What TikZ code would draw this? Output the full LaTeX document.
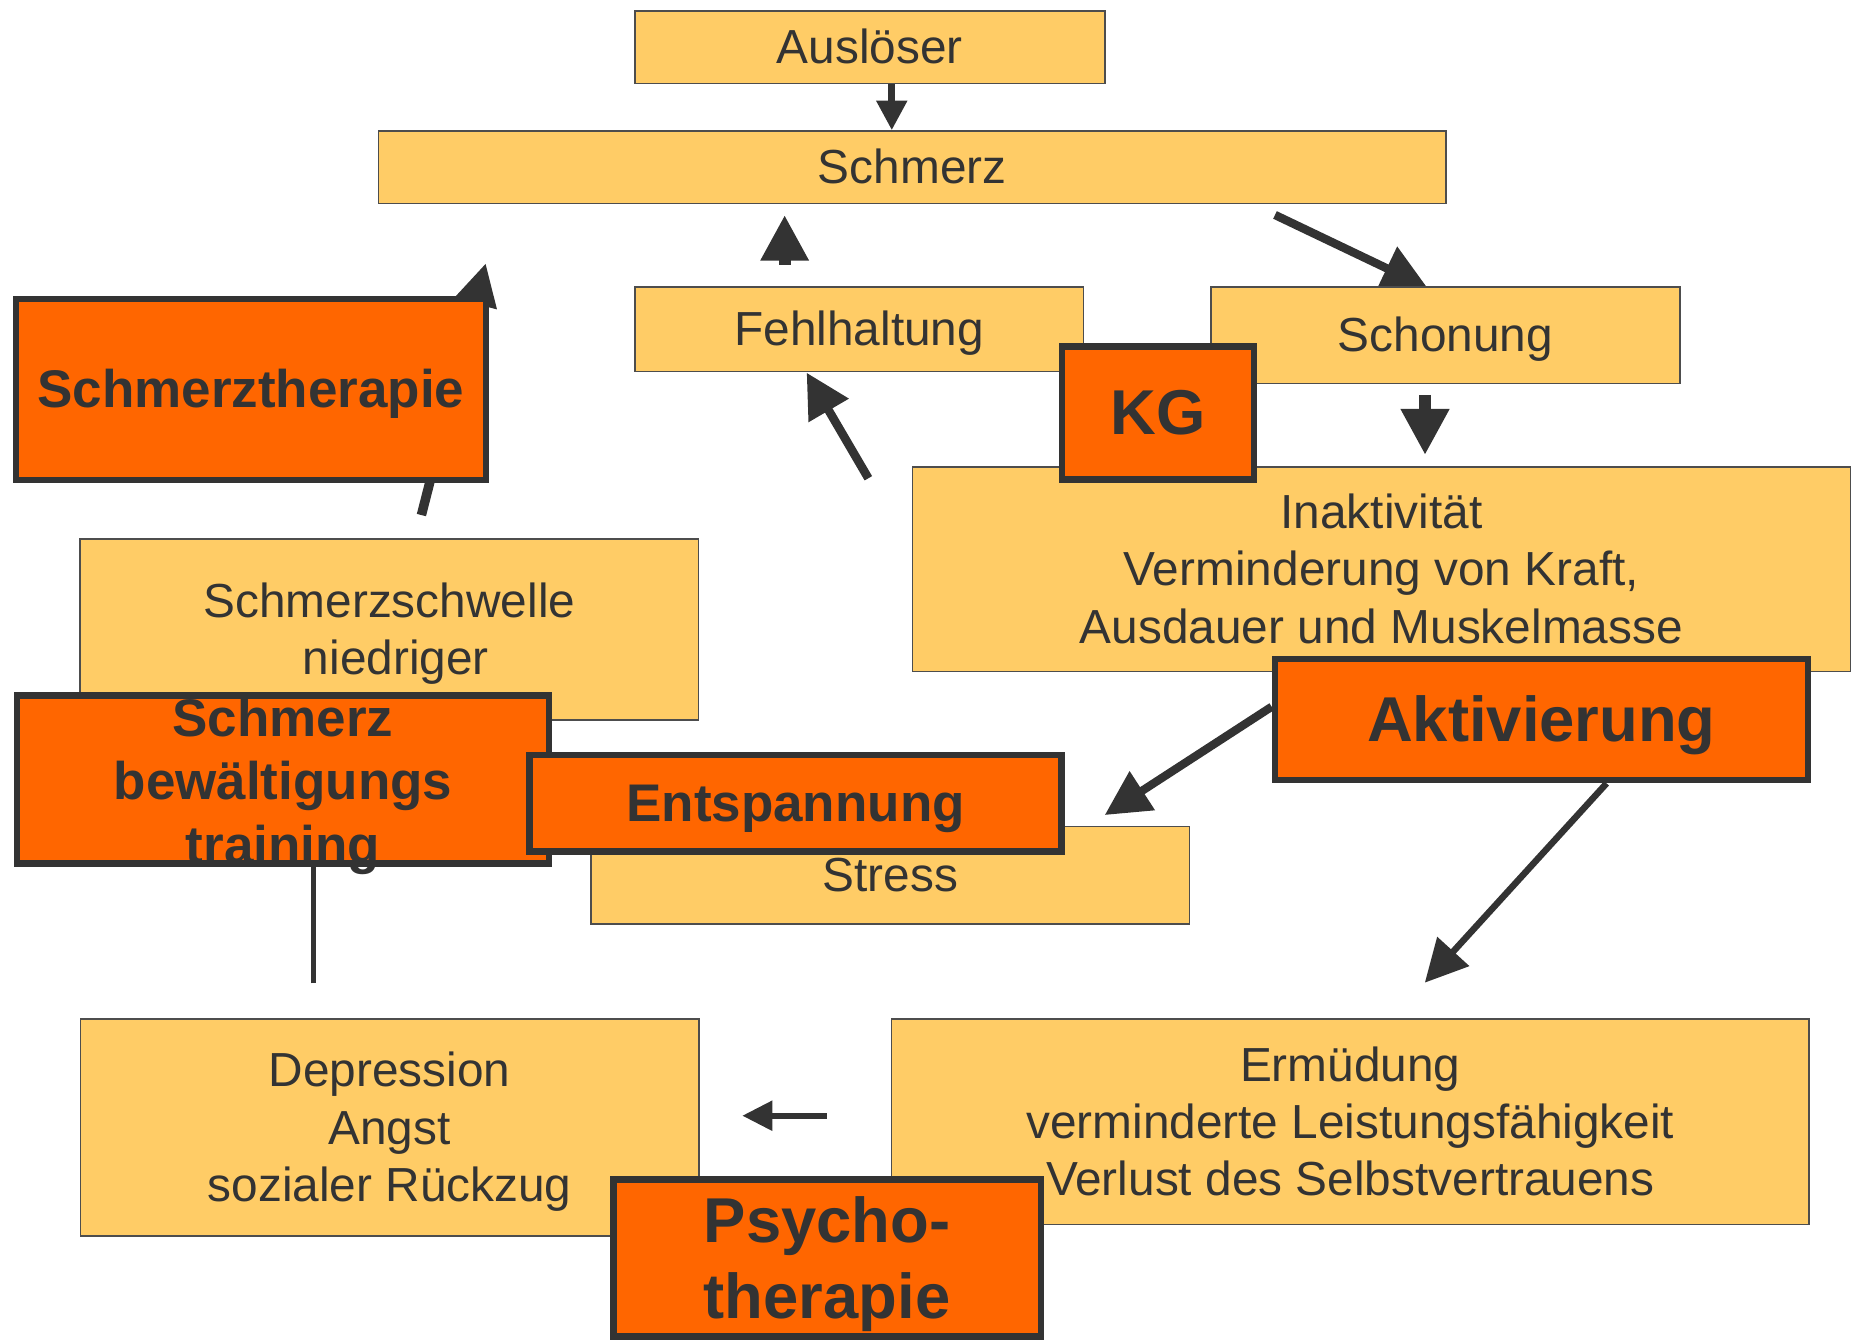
\documentclass[tikz,border=0pt]{standalone}
\usepackage{fontspec}
\setmainfont{Liberation Sans}
\usepackage{tikz}
\definecolor{boxfill}{RGB}{255,204,102}
\definecolor{therapyfill}{RGB}{255,102,0}
\definecolor{darkgrey}{RGB}{51,51,51}
\definecolor{boxline}{RGB}{77,77,77}
\usetikzlibrary{arrows.meta}
\usetikzlibrary{calc}
\pgfdeclarelayer{edgelayer}
\pgfdeclarelayer{nodelayer}
\pgfdeclarelayer{therapylayer}
\pgfsetlayers{edgelayer,nodelayer,therapylayer,main}
\newcommand{\boxfont}{\fontsize{11.5}{13.8}\selectfont}
\newcommand{\therapyfont}{\bfseries\fontsize{12.75}{15.3}\selectfont}
\newcommand{\bigtherapyfont}{\bfseries\fontsize{15.25}{18.3}\selectfont}
% line struts, so that every text sits like in the slide
\newcommand{\topstrut}{\rule{0pt}{0.905em}}
\newcommand{\botstrut}{\rule[-0.212em]{0pt}{0.212em}}
\tikzstyle{struts}=[execute at begin node=\topstrut,execute at end node=\botstrut]
\tikzstyle{box}=[rectangle,fill=boxfill,draw=boxline,line width=0.4pt,text=darkgrey,font=\boxfont,align=center,inner sep=0pt,struts]
\tikzstyle{therapy}=[rectangle,fill=therapyfill,draw=darkgrey,line width=0.055cm,text=darkgrey,font=\therapyfont,align=center,inner sep=0pt,struts]
\tikzstyle{bigtherapy}=[therapy,font=\bigtherapyfont]
\tikzstyle{therapytext}=[text=darkgrey,font=\therapyfont,align=center,inner sep=0pt,struts]
\tikzstyle{arrow}=[draw=darkgrey,line cap=butt]

\begin{document}
\begin{tikzpicture}
        \useasboundingbox (0, 0) rectangle (15.68, -11.35);

        \begin{pgfonlayer}{nodelayer}
            \node [style = box, minimum width=3.974cm, minimum height=0.615cm] (ausl) at (7.357, -0.398) {Auslöser};
            \node [style = box, minimum width=9.029cm, minimum height=0.612cm] (schm) at (7.715, -1.414) {Schmerz};
            \node [style = box, minimum width=3.795cm, minimum height=0.718cm] (fehl) at (7.267, -2.784) {Fehlhaltung};
            \node [style = box, minimum width=3.970cm, minimum height=0.817cm] (scho) at (12.225, -2.834) {Schonung};
            \node [style = box, minimum width=7.934cm, minimum height=1.733cm] (inak) at (11.683, -4.814) {\topstrut Inaktivität\\Verminderung von Kraft,\\Ausdauer und Muskelmasse};
            \node [style = box, minimum width=5.228cm, minimum height=1.531cm] (schw) at (3.293, -5.325) {\topstrut Schmerzschwelle\\\hspace*{0.11cm}niedriger};
            \node [style = box, minimum width=5.060cm, minimum height=0.825cm] (stre) at (7.530, -7.403) {Stress};
            \node [style = box, minimum width=5.230cm, minimum height=1.835cm] (depr) at (3.295, -9.536) {\topstrut Depression\\Angst\\sozialer Rückzug};
            \node [style = box, minimum width=7.760cm, minimum height=1.735cm] (ermu) at (11.420, -9.488) {\topstrut Ermüdung\\verminderte Leistungsfähigkeit\\Verlust des Selbstvertrauens};
        \end{pgfonlayer}

        \begin{pgfonlayer}{therapylayer}
            \node [style = therapy, minimum width=3.977cm, minimum height=1.533cm] (sthe) at (2.122, -3.294) {Schmerztherapie};
            \node [style = bigtherapy, minimum width=1.624cm, minimum height=1.123cm] (kg) at (9.795, -3.493) {KG};
            \node [style = bigtherapy, minimum width=4.507cm, minimum height=1.025cm] (akt) at (13.036, -6.085) {Aktivierung};
            \node [style = therapy, minimum width=4.499cm, minimum height=1.420cm] (sbt) at (2.393, -6.593) {};
            \node [style = therapytext] (sbtext) at (2.393, -6.61) {\topstrut Schmerz\\bewältigungs\\training};
            \node [style = therapy, minimum width=4.501cm, minimum height=0.818cm] (ents) at (6.728, -6.794) {Entspannung};
            \node [style = bigtherapy, minimum width=3.615cm, minimum height=1.325cm] (psy) at (6.995, -10.640) {\topstrut Psycho-\\therapie};
        \end{pgfonlayer}

        \begin{pgfonlayer}{edgelayer}
            \coordinate (ausl out) at ($(ausl.south)+(0.185,0)$);
            \coordinate (fehl out) at (6.636, -2.240);
            \coordinate (schm in) at (6.636, -1.818);
            \coordinate (schm out) at (10.783, -1.818);
            \coordinate (scho in) at (12.071, -2.433);
            \coordinate (scho out) at (12.052, -3.340);
            \coordinate (inak in) at (12.052, -3.848);
            \coordinate (inak out) at (7.344, -4.045);
            \coordinate (fehl in) at (6.822, -3.152);
            \coordinate (schw out) at (3.564, -4.356);
            \coordinate (schm in2) at (4.108, -2.227);
            \coordinate (akt out1) at (10.755, -5.977);
            \coordinate (stre in) at (9.343, -6.893);
            \coordinate (akt out2) at (13.587, -6.625);
            \coordinate (ermu in) at (12.050, -8.311);
            \coordinate (ermu out) at (6.992, -9.436);
            \coordinate (depr in) at (6.278, -9.436);
            \coordinate (depr out) at (2.653, -8.316);

            \draw [style = arrow, line width=0.056cm, -{Triangle[length=0.25cm, width=0.25cm]}] (ausl out) to (ausl out |- schm.north);
            \draw [style = arrow, line width=0.099cm, -{Triangle[length=0.386cm, width=0.383cm]}] (fehl out) to (schm in);
            \draw [style = arrow, line width=0.071cm, -{Triangle[length=0.38cm, width=0.39cm]}] (schm out) to (scho in);
            \draw [style = arrow, line width=0.096cm, -{Triangle[length=0.389cm, width=0.386cm]}] (scho out) to (inak in);
            \draw [style = arrow, line width=0.073cm, -{Triangle[length=0.37cm, width=0.375cm]}] (inak out) to (fehl in);
            \draw [style = arrow, line width=0.08cm, -{Triangle[length=0.354cm, width=0.353cm]}] (schw out) to (schm in2);
            \draw [style = arrow, line width=0.07cm, -{Triangle[length=0.379cm, width=0.376cm]}] (akt out1) to (stre in);
            \draw [style = arrow, line width=0.055cm, -{Triangle[length=0.358cm, width=0.354cm]}] (akt out2) to (ermu in);
            \draw [style = arrow, line width=0.048cm, -{Triangle[length=0.254cm, width=0.245cm]}] (ermu out) to (depr in);
            \draw [style = arrow, line width=0.045cm] (depr out) to (depr out |- sbt.south);
        \end{pgfonlayer}
\end{tikzpicture}
\end{document}
